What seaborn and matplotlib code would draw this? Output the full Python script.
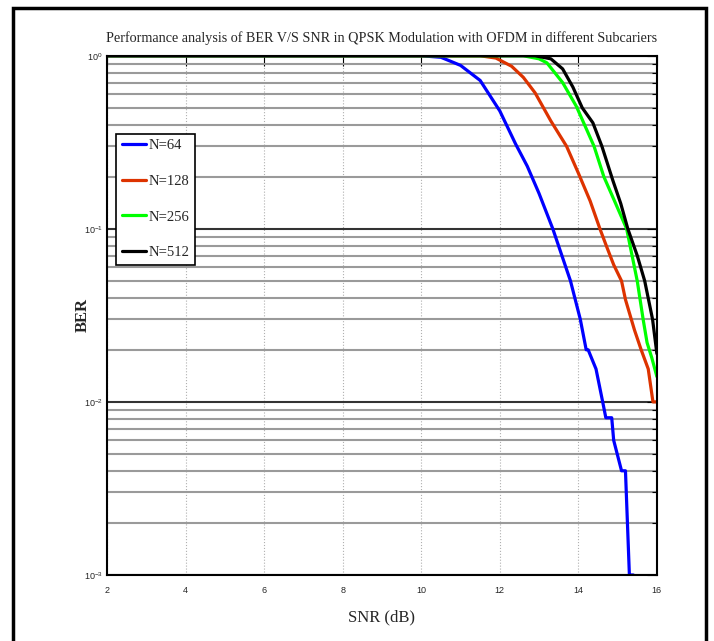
import numpy as np
import pandas as pd
import matplotlib
matplotlib.use("Agg")
import matplotlib.pyplot as plt
import seaborn as sns
from matplotlib.ticker import LogLocator, NullFormatter, FixedLocator

# values
labels = ["N=64", "N=128", "N=256", "N=512"]
colors = ["#0000ff", "#dd3300", "#00ff00", "#000000"]

snr_64 = [2, 10, 10.5, 11.0, 11.5, 12.0, 12.4, 12.7, 13.0, 13.35, 13.8, 14.05, 14.2, 14.25,
          14.45, 14.62, 14.7, 14.85, 14.9, 15.1, 15.2, 15.3, 15.4]
ber_64 = [1, 1, 0.98, 0.88, 0.72, 0.48, 0.31, 0.23, 0.16, 0.1, 0.05, 0.03, 0.02, 0.02,
          0.0155, 0.01, 0.0081, 0.0081, 0.006, 0.004, 0.004, 0.001, 0.001]

snr_128 = [2, 11.5, 11.9, 12.3, 12.6, 12.9, 13.3, 13.7, 14.0, 14.3, 14.55, 14.72, 14.9,
           15.1, 15.2, 15.43, 15.6, 15.78, 15.9, 16.0]
ber_128 = [1, 1, 0.97, 0.87, 0.75, 0.61, 0.42, 0.30, 0.21, 0.145, 0.1, 0.079, 0.062,
           0.05, 0.039, 0.026, 0.02, 0.0155, 0.01, 0.01]

snr_256 = [2, 12.6, 13.0, 13.2, 13.6, 13.95, 14.4, 14.65, 14.95, 15.23, 15.5, 15.65,
           15.75, 15.87, 16.0]
ber_256 = [1, 1, 0.96, 0.91, 0.70, 0.51, 0.30, 0.2, 0.14, 0.1, 0.05, 0.03,
           0.022, 0.018, 0.014]

snr_512 = [2, 12.9, 13.3, 13.6, 13.86, 14.1, 14.37, 14.6, 14.88, 15.08, 15.26, 15.5,
           15.69, 15.89, 16.0]
ber_512 = [1, 1, 0.96, 0.84, 0.66, 0.5, 0.41, 0.3, 0.19, 0.14, 0.1, 0.07,
           0.05, 0.03, 0.019]

x_ticks = [2, 4, 6, 8, 10, 12, 14, 16]

frames = []
for lab, s, b in zip(labels, [snr_64, snr_128, snr_256, snr_512],
                     [ber_64, ber_128, ber_256, ber_512]):
    frames.append(pd.DataFrame({"snr": s, "ber": b, "N": lab}))
df = pd.concat(frames, ignore_index=True)

sns.set_style("white")
plt.rcParams["font.family"] = ["Liberation Serif", "DejaVu Serif"]
plt.rcParams["mathtext.default"] = "regular"

fig = plt.figure(figsize=(7.14, 6.41), dpi=100)
ax = fig.add_axes([0.150, 0.103, 0.770, 0.810])

sns.lineplot(data=df, x="snr", y="ber", hue="N", palette=colors, hue_order=labels,
             estimator=None, sort=False, linewidth=2.3, ax=ax)

ax.set_yscale("log")
ax.set_xlim(2, 16)
ax.set_ylim(1e-3, 1)
ax.xaxis.set_major_locator(FixedLocator(x_ticks))

# MATLAB-like grid: all log lines horizontally, major x lines vertically
ax.yaxis.set_minor_locator(LogLocator(base=10, subs=np.arange(2, 10)))
ax.yaxis.set_minor_formatter(NullFormatter())
ax.grid(True, which="minor", axis="y", color="#9a9a9a", linewidth=1.5)
ax.grid(True, which="major", axis="y", color="#333333", linewidth=1.5)
ax.grid(True, which="major", axis="x", color="#b0b0b0", linewidth=0.8, linestyle=":")
ax.set_axisbelow(True)

ax.tick_params(which="both", direction="in", top=True, right=True, color="black")
ax.tick_params(which="major", length=7, width=0.8)
ax.tick_params(which="minor", length=3.5, width=0.8)
ax.tick_params(axis="x", labelsize=6.5, pad=8)
ax.tick_params(axis="y", labelsize=6.5, pad=3)
for t in ax.get_xticklabels() + ax.get_yticklabels():
    t.set_fontfamily(["Liberation Sans", "DejaVu Sans"])

for sp in ax.spines.values():
    sp.set_color("black")
    sp.set_linewidth(1.5)

ax.set_title("Performance analysis of BER V/S SNR in QPSK Modulation with OFDM in different Subcariers",
             fontsize=10.2, pad=10)
ax.set_xlabel("SNR (dB)", fontsize=12, labelpad=10)
ax.set_ylabel("BER", fontsize=12, fontweight="bold", labelpad=-5)

leg = ax.legend(loc="upper left", bbox_to_anchor=(0.017, 0.85), borderaxespad=0,
                fontsize=10.5, handlelength=1.7, handletextpad=0.15, labelspacing=1.55,
                frameon=True, fancybox=False, edgecolor="black", framealpha=1,
                borderpad=0.35)
leg.get_frame().set_linewidth(1.2)
for line in leg.get_lines():
    line.set_linewidth(2.3)

# black frame around the whole figure
fig.patches.append(plt.Rectangle((13 / 714, -0.01), 0.97, 1 - 8 / 641 + 0.01,
                                 transform=fig.transFigure, fill=False,
                                 edgecolor="black", linewidth=2.5))

fig.savefig("out.png", dpi=100)
